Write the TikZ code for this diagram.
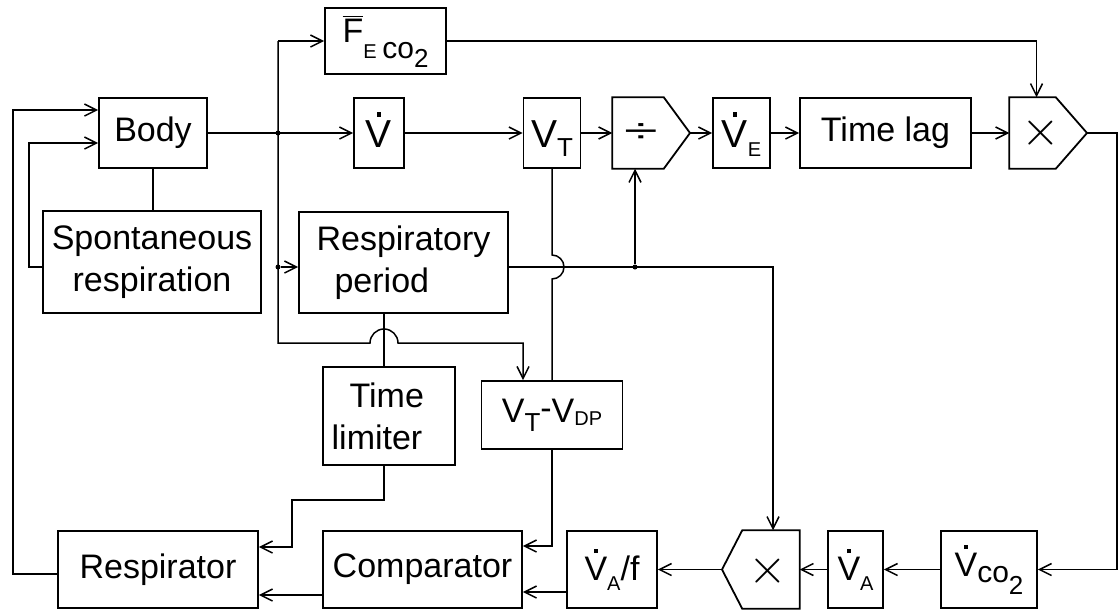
\documentclass[tikz,border=0pt]{standalone}
\usepackage{fontspec}
\usepackage{graphicx}
\setmainfont{Liberation Sans}
\usetikzlibrary{arrows.meta,calc}
\newcommand\Vdot{\setbox0\hbox{V}\rlap{\hbox to\wd0{\hss\raisebox{\dimexpr\ht0+1.8pt\relax}{\rule{2.2pt}{2.2pt}}\hss}}\box0}
\newcommand\Vbig[1]{{\fontsize{19.5}{21}\selectfont #1}}
\newcommand\lo[3]{\raisebox{-#1}{\fontsize{#2}{#2}\selectfont #3}}
\newcommand\los[3]{\raisebox{-#1}[0pt][0pt]{\fontsize{#2}{#2}\selectfont #3}}
\newcommand\bigtimes{\fontsize{28}{28}\selectfont$\times$}
\begin{document}
\begin{tikzpicture}[x=0.5pt,y=-0.5pt,
  >={Straight Barb[length=6pt,width=6pt]},
  line width=0.75pt,
  box/.style={draw, line width=0.9pt, inner sep=0pt, align=center, font=\fontsize{17}{21}\selectfont},
  vrow/.style={text height=14pt, text depth=0pt},
  pt/.style={draw=none, inner sep=0pt},
  jdot/.style={circle, fill, inner sep=0pt, minimum size=2.5pt}]
\useasboundingbox (0,0) rectangle (1119,611);

% top row
\node[box, minimum width=54pt, minimum height=35pt] (body) at (153,133) {Body};
\node[box, minimum width=109pt, minimum height=51pt] (spont) at (152,262) {Spontaneous\\respiration};
\node[box, minimum width=60.5pt, minimum height=33pt] (fe) at (385.5,41) {$\overline{\hbox{F}}$\lo{8pt}{10}{E}\,\lo{8pt}{15}{co\lo{4.5pt}{13}{2}}};
\node[box, vrow, minimum width=25pt, minimum height=35pt] (vd) at (379,133) {\Vbig{\Vdot}};
\node[box, vrow, minimum width=28.5pt, minimum height=35pt] (vt) at (552,133) {\Vbig{V}\los{4.5pt}{13}{T}};
\node[pt, minimum width=25pt, minimum height=35pt] (div) at (638,133) {};
\coordinate (divtip) at (690,133);
\draw[line width=0.9pt] (div.north west) -- (div.north east) -- (divtip) -- (div.south east) -- (div.south west) -- cycle;
\node (divlbl) at (641,133) {\fontsize{17}{17}\selectfont\scalebox{1.8}[1]{÷}};
\node[box, vrow, minimum width=28.5pt, minimum height=35pt] (ve) at (741.5,133) {\Vbig{\Vdot}\los{4.5pt}{10}{E}};
\node[box, minimum width=85.5pt, minimum height=35pt] (lag) at (885.5,133) {Time lag};
\node[pt, minimum width=22.5pt, minimum height=35pt] (mul1) at (1032.5,133) {};
\coordinate (mul1tip) at (1087,133);
\draw[line width=0.9pt] (mul1.south west) -- (mul1.north west) -- (mul1.north east) -- (mul1tip) -- (mul1.south east) -- cycle;
\node (mul1lbl) at (1041,133) {\bigtimes};

% middle
\node[box, minimum width=104.5pt, minimum height=50.5pt, align=left] (resp) at (403.5,262.5) {Respiratory\\\hspace*{9pt}period};
\node[box, minimum width=66pt, minimum height=49pt, align=left] (tl) at (389,416) {\hspace*{9pt}Time\\limiter\hspace*{12pt}};
\node[box, minimum width=70.5pt, minimum height=34pt] (vtv) at (552,415) {V\lo{4.5pt}{13}{T}\raisebox{1.5pt}{-}V\lo{1.5pt}{10}{DP}};

% bottom row
\node[box, minimum width=100pt, minimum height=38.5pt] (rsp) at (158,569.5) {Respirator};
\node[box, minimum width=99.5pt, minimum height=38.5pt] (cmp) at (422.5,569.5) {Comparator};
\node[box, minimum width=45pt, minimum height=38.5pt] (vaf) at (612,569.5) {\Vdot\lo{5pt}{10}{A}/f};
\node[pt, minimum width=28pt, minimum height=38.5pt] (mul2) at (771,569.5) {};
\coordinate (mul2tip) at (722,569.5);
\draw[line width=0.9pt] (mul2.north east) -- (mul2.north west) -- (mul2tip) -- (mul2.south west) -- (mul2.south east) -- cycle;
\node (mul2lbl) at (768,571) {\bigtimes};
\node[box, minimum width=27.5pt, minimum height=38.5pt] (va) at (855.5,569.5) {\Vdot\lo{5pt}{10}{A}};
\node[box, minimum width=48pt, minimum height=38.5pt] (vco) at (989,569.5) {\Vdot\lo{3pt}{15}{co}\lo{9pt}{13}{2}};

% junctions and helper coordinates
\node[jdot] (j1) at (278,133) {};
\node[jdot] (j2) at (278,267) {};
\node[jdot] (j3) at (635,267) {};
\coordinate (c1) at (278,343);
\coordinate (tlx) at (384,0);
\coordinate (k1) at (292,500);
\coordinate (re) at (1117,571);
\coordinate (ol) at (13,574);
\coordinate (il) at (29,267);
\coordinate (m2in) at ($(mul2.north)+(1pt,0)$);
\coordinate (m1in) at ($(mul1.north)+(2pt,0)$);
\coordinate (vtvin) at ($(vtv.north)+(-14.5pt,0)$);
\coordinate (cmpin) at ($(cmp.east)+(0,11.75pt)$);
\coordinate (rspin) at ($(rsp.east)+(0,11.25pt)$);
\coordinate (vafo) at ($(vaf.west)+(0,-11.25pt)$);
\coordinate (cmpo) at ($(cmp.west)+(0,-12.75pt)$);
\coordinate (bi1) at ($(body.west)+(0,11.5pt)$);
\coordinate (bi2) at ($(body.west)+(0,-5pt)$);

% connectors
\draw (body.south) -- (body.south |- spont.north);
\draw[->] (body.east) -- (vd.west);
\draw[->] (j1 |- fe.west) -- (fe.west);
\draw[->] (j1 |- fe.west) -- (c1) -- ($(c1 -| tlx)+(-7pt,0)$) arc[start angle=180,end angle=0,radius=7pt] -- (c1 -| vtvin) -- (vtvin);
\draw[->] (j2) -- (resp.west |- j2);
\draw[->] (vd.east) -- (vt.west);
\draw[->] (vt.east) -- (div.west);
\draw[->] (divtip) -- (ve.west);
\draw[->] (ve.east) -- (lag.west);
\draw[->] (lag.east) -- (mul1.west);
\draw[->] (fe.east) -- (fe.east -| m1in) -- (m1in);
\draw[->] (mul1tip) -- (mul1tip -| re) -- (re |- vco.east) -- (vco.east);
\draw[->] (vco.west) -- (va.east);
\draw[->] (va.west) -- (mul2.east);
\draw[->] (mul2tip) -- (vaf.east);
\draw[->] (resp.east |- j2) -- (m2in |- j2) -- (m2in);
\draw[->] (j3) -- (div.south -| j3);
\draw (vt.south) -- ($(vt.south |- j2)+(0,6pt)$) arc[start angle=90,end angle=-90,radius=6pt] -- (vtv.north);
\draw[->] (vtv.south) -- (vtv.south |- cmpin) -- (cmpin);
\draw (resp.south -| tlx) -- (tl.north -| tlx);
\draw[->] (tl.south -| tlx) -- (tlx |- k1) -- (k1) -- (k1 |- rspin) -- (rspin);
\draw[->] (vafo) -- (cmp.east |- vafo);
\draw[->] (cmpo) -- (rsp.east |- cmpo);
\draw[->] (rsp.west |- ol) -- (ol) -- (ol |- bi1) -- (bi1);
\draw[->] (spont.west |- il) -- (il) -- (il |- bi2) -- (bi2);
\end{tikzpicture}
\end{document}
